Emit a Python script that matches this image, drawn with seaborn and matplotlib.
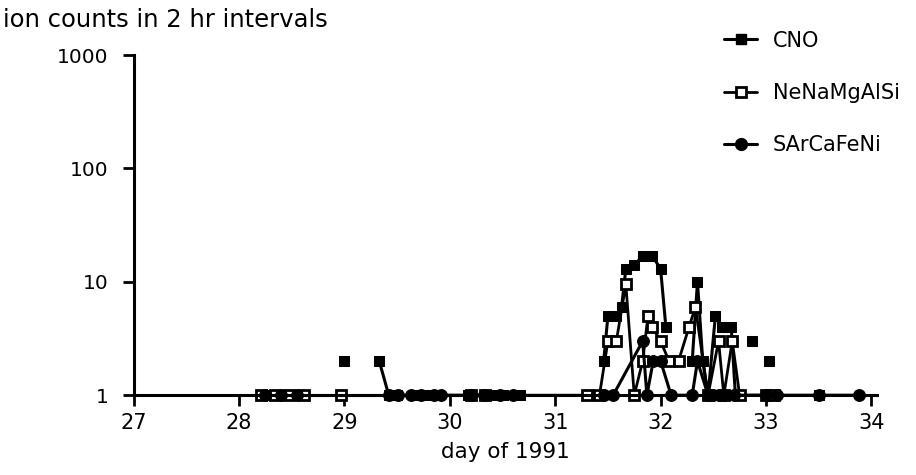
import numpy as np
import pandas as pd
import matplotlib
matplotlib.use("Agg")
import matplotlib.pyplot as plt
import seaborn as sns
from matplotlib.lines import Line2D

nan = np.nan

# ---- data ----
cno_day = [29.00, 29.17, 29.33, 29.42, 29.50, 29.67, 29.75, 29.83, 30.17, 30.33, 30.42, 30.50, 30.67,
           31.00, 31.46, 31.50, 31.58, 31.63, 31.67, 31.75, 31.83, 31.92, 32.00, 32.05,
           32.20, 32.30, 32.35, 32.40, 32.45, 32.52, 32.58, 32.67, 32.71,
           32.80, 32.87, 32.95, 33.03, 33.20, 33.50]
cno_val = [2, nan, 2, 1, 1, 1, 1, 1, 1, 1, 1, 1, 1,
           nan, 2, 5, 5, 6, 13, 14, 17, 17, 13, 4,
           nan, 2, 10, 2, 1, 5, 4, 4, 1,
           nan, 3, nan, 2, nan, 1]

ne_day = [28.21, 28.34, 28.47, 28.62, 28.97, 29.10, 30.20, 30.33, 31.30, 31.42, 31.50, 31.58,
          31.67, 31.75, 31.83, 31.88, 31.92, 32.00, 32.08, 32.17, 32.27, 32.33, 32.45,
          32.55, 32.60, 32.68, 32.75, 33.00, 33.08]
ne_val = [1, 1, 1, 1, 1, nan, 1, 1, 1, 1, 3, 3,
          9.5, 1, 2, 5, 4, 3, 2, 2, 4, 6, 1,
          3, 1, 3, 1, 1, 1]

sa_day = [28.25, 28.40, 28.55, 29.42, 29.51, 29.63, 29.73, 29.85, 29.92, 30.20, 30.32, 30.48, 30.60,
          31.25, 31.46, 31.55, 31.83, 31.87, 31.93, 32.00, 32.10, 32.30, 32.35, 32.45,
          32.50, 32.55, 32.60, 32.70, 33.00, 33.10, 33.50, 33.88]
sa_val = [1, 1, 1, 1, 1, 1, 1, 1, 1, 1, 1, 1, 1,
          nan, 1, 1, 3, 1, 2, 2, 1, 1, 2, 1,
          1, 1, 1, 1, 1, 1, 1, 1]

series_names = ["CNO", "NeNaMgAlSi", "SArCaFeNi"]
x_ticks = [27, 28, 29, 30, 31, 32, 33, 34]
y_ticks = [1, 10, 100, 1000]
y_labels = ["1", "10", "100", "1000"]
title_text = "ion counts in 2 hr intervals"
x_title = "day of 1991"

# ---- build a tidy table with segment ids (NaN breaks a line) ----
frames = []
for name, d, v in zip(series_names, [cno_day, ne_day, sa_day], [cno_val, ne_val, sa_val]):
    df = pd.DataFrame({"day": d, "count": v})
    df["seg"] = df["count"].isna().cumsum()
    df = df.dropna()
    df["series"] = name
    frames.append(df)
data = pd.concat(frames, ignore_index=True)
data["uid"] = data["series"] + "_" + data["seg"].astype(str)

sns.set_style("ticks")
plt.rcParams["font.family"] = ["DejaVu Sans"]
plt.rcParams["text.color"] = "black"
plt.rcParams["axes.labelcolor"] = "black"
plt.rcParams["xtick.color"] = "black"
plt.rcParams["ytick.color"] = "black"

fig = plt.figure(figsize=(9.16, 4.75), dpi=100)
ax = fig.add_axes([0.146, 0.168, 0.811, 0.716])

styles = {
    "CNO": dict(marker="s", markerfacecolor="black", markeredgecolor="black", markersize=7.8, linewidth=2.2),
    "NeNaMgAlSi": dict(marker="s", markerfacecolor="white", markeredgecolor="black", markeredgewidth=2.0,
                       markersize=7.8, linewidth=2.0),
    "SArCaFeNi": dict(marker="o", markerfacecolor="black", markeredgecolor="black", markersize=8.5, linewidth=2.2),
}
for name in series_names:
    sub = data[data["series"] == name]
    sns.lineplot(data=sub, x="day", y="count", units="uid", estimator=None, sort=False,
                 color="black", ax=ax, clip_on=False, **styles[name])

ax.set_yscale("log")
ax.set_ylim(1, 1000)
ax.set_xlim(27, 34.05)
ax.set_yticks(y_ticks)
ax.set_yticklabels(y_labels)
ax.minorticks_off()
ax.set_xticks(x_ticks)
ax.set_xticklabels([str(t) for t in x_ticks])
ax.tick_params(axis="both", width=2, length=8, colors="black", direction="out")
ax.tick_params(axis="y", pad=10, labelsize=14.5)
ax.tick_params(axis="x", pad=5, labelsize=15)
ax.set_xlabel(x_title, fontsize=15.5, labelpad=6)
ax.set_ylabel("")
for s in ["top", "right"]:
    ax.spines[s].set_visible(False)
for s in ["left", "bottom"]:
    ax.spines[s].set_linewidth(2.2)
    ax.spines[s].set_color("black")

fig.text(0.003, 0.957, title_text, fontsize=17.5, ha="left", va="center")

# legend
handles = [Line2D([], [], color="black", **styles[n]) for n in series_names]
fig.legend(handles, series_names, loc="upper left", bbox_to_anchor=(0.77, 0.975), frameon=False,
           fontsize=15, handlelength=1.6, labelspacing=1.55, handletextpad=0.75)

fig.savefig("out.png", dpi=100)
